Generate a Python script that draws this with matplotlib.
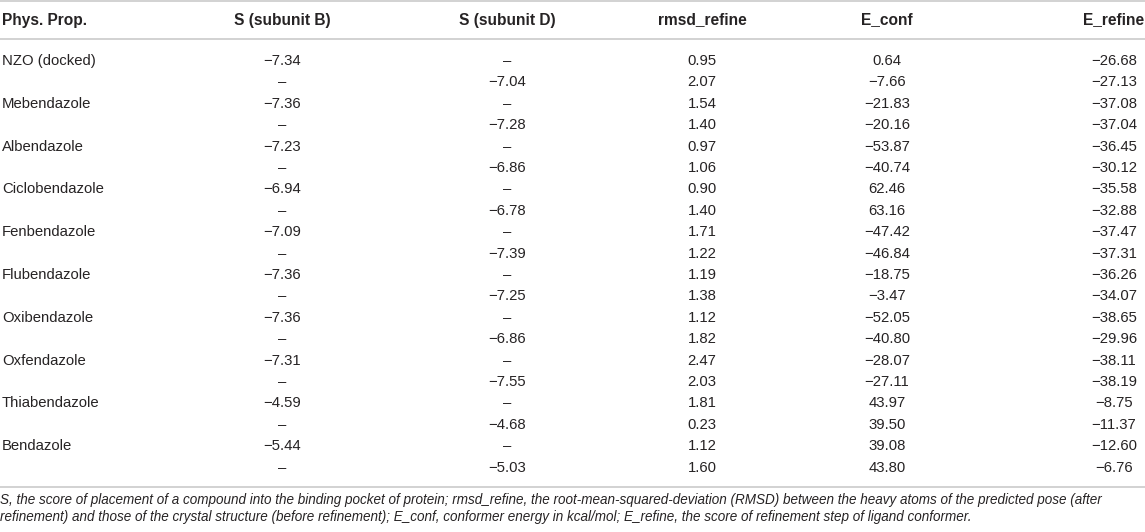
import matplotlib
matplotlib.use("Agg")
import matplotlib.pyplot as plt

plt.rcParams['font.family'] = ['Liberation Sans', 'DejaVu Sans']

headers = ["Phys. Prop.", "S (subunit B)", "S (subunit D)", "rmsd_refine", "E_conf", "E_refine"]
compounds = ["NZO (docked)", "Mebendazole", "Albendazole", "Ciclobendazole", "Fenbendazole",
             "Flubendazole", "Oxibendazole", "Oxfendazole", "Thiabendazole", "Bendazole"]
s_subunit_b = [-7.34, -7.36, -7.23, -6.94, -7.09, -7.36, -7.36, -7.31, -4.59, -5.44]
s_subunit_d = [-7.04, -7.28, -6.86, -6.78, -7.39, -7.25, -6.86, -7.55, -4.68, -5.03]
rmsd_refine = [0.95, 2.07, 1.54, 1.40, 0.97, 1.06, 0.90, 1.40, 1.71, 1.22,
               1.19, 1.38, 1.12, 1.82, 2.47, 2.03, 1.81, 0.23, 1.12, 1.60]
e_conf = [0.64, -7.66, -21.83, -20.16, -53.87, -40.74, 62.46, 63.16, -47.42, -46.84,
          -18.75, -3.47, -52.05, -40.80, -28.07, -27.11, 43.97, 39.50, 39.08, 43.80]
e_refine = [-26.68, -27.13, -37.08, -37.04, -36.45, -30.12, -35.58, -32.88, -37.47, -37.31,
            -36.26, -34.07, -38.65, -29.96, -38.11, -38.19, -8.75, -11.37, -12.60, -6.76]
caption = ["S, the score of placement of a compound into the binding pocket of protein; rmsd_refine, the root-mean-squared-deviation (RMSD) between the heavy atoms of the predicted pose (after",
           "refinement) and those of the crystal structure (before refinement); E_conf, conformer energy in kcal/mol; E_refine, the score of refinement step of ligand conformer."]

DASH = "\u2013"

def fmt(v):
    s = f"{v:.2f}"
    return s.replace("-", "\u2212")

W, H = 1145, 532
fig = plt.figure(figsize=(W / 100, H / 100), dpi=100)
ax = fig.add_axes([0, 0, 1, 1])
ax.set_xlim(0, W)
ax.set_ylim(H, 0)
ax.axis("off")

col_x = [2, 282, 507, 702, 887, 1114]
txt_color = "#262324"
line_color = "#cfcfcf"

hdr_y = 20
for i, h in enumerate(headers):
    ax.text(col_x[i], hdr_y, h, ha="left" if i == 0 else "center", va="center",
            fontsize=11.2, fontweight="bold", color=txt_color)

for y in (1, 39, 487):
    ax.plot([0, W], [y, y], color=line_color, lw=1.3, solid_capstyle="butt")

row0, dy = 61, 21.4
fs = 10.7
for k, name in enumerate(compounds):
    for j in range(2):
        r = 2 * k + j
        y = row0 + r * dy
        if j == 0:
            ax.text(col_x[0], y, name, ha="left", va="center", fontsize=fs, color=txt_color)
            sb = fmt(s_subunit_b[k]); sd = DASH
        else:
            sb = DASH; sd = fmt(s_subunit_d[k])
        vals = [sb, sd, f"{rmsd_refine[r]:.2f}", fmt(e_conf[r]), fmt(e_refine[r])]
        for c, v in enumerate(vals):
            ax.text(col_x[c + 1], y, v, ha="center", va="center", fontsize=fs, color=txt_color)

for i, line in enumerate(caption):
    ax.text(0, 500 + i * 17, line, ha="left", va="center", fontsize=9.75,
            fontstyle="italic", color=txt_color)

fig.savefig("out.png", dpi=100)
